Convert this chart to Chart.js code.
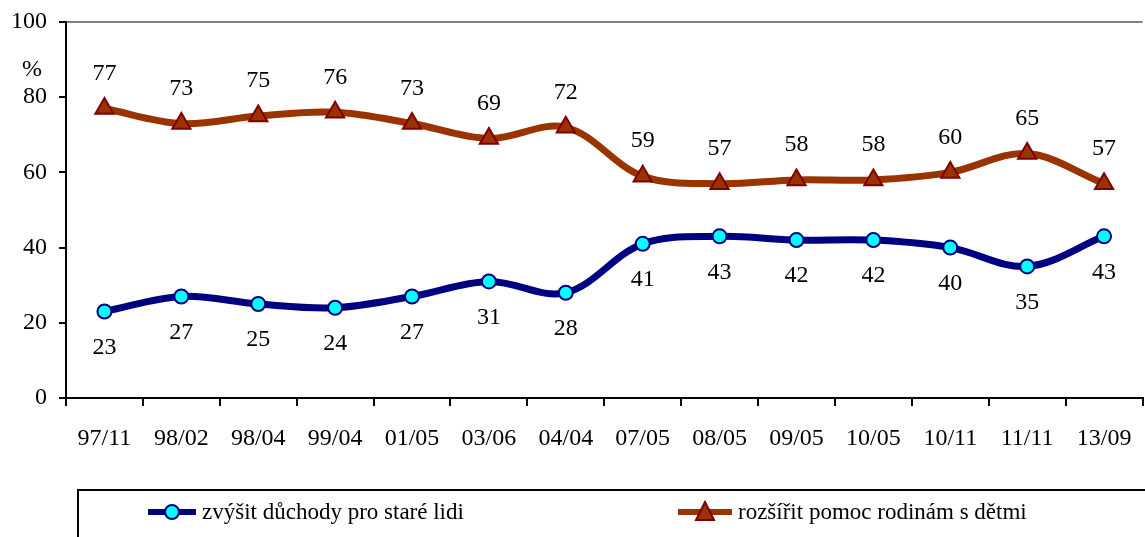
<!DOCTYPE html>
<html>
<head>
<meta charset="utf-8">
<script src="https://cdn.jsdelivr.net/npm/chart.js@4.4.1/dist/chart.umd.min.js"></script>
<style>
html,body{margin:0;padding:0;background:#fff;overflow:hidden;width:1145px;height:537px;}
#wrap{position:absolute;left:0;top:0;width:1155px;height:537px;}
</style>
</head>
<body>
<div id="wrap"><canvas id="c" width="1155" height="537"></canvas></div>
<script>
const categories = ["97/11","98/02","98/04","99/04","01/05","03/06","04/04","07/05","08/05","09/05","10/05","10/11","11/11","13/09"];
const pensions = [23,27,25,24,27,31,28,41,43,42,42,40,35,43];
const families = [77,73,75,76,73,69,72,59,57,58,58,60,65,57];
const yTicks = [0,20,40,60,80,100];
const seriesNames = ["zvýšit důchody pro staré lidi","rozšířit pomoc rodinám s dětmi"];
const FONT = "'Liberation Serif','Times New Roman',serif";

const extras = {
  id: 'extras',
  afterDatasetsDraw(chart) {
    const ctx = chart.ctx;
    ctx.save();
    ctx.font = "24px " + FONT;
    ctx.fillStyle = "#000";
    ctx.textAlign = "center";
    ctx.textBaseline = "middle";
    chart.getDatasetMeta(0).data.forEach((p, i) => {
      ctx.fillText(String(pensions[i]), p.x, p.y + 36);
    });
    chart.getDatasetMeta(1).data.forEach((p, i) => {
      ctx.fillText(String(families[i]), p.x, p.y - 35);
    });
    ctx.fillText("%", 32, 70);
    ctx.restore();
  },
  afterDraw(chart) {
    const ctx = chart.ctx;
    ctx.save();
    ctx.strokeStyle = "#000";
    ctx.lineWidth = 2;
    ctx.strokeRect(78, 490, 1200, 100);
    const y = 512;
    ctx.strokeStyle = "#000080";
    ctx.lineWidth = 6;
    ctx.beginPath(); ctx.moveTo(148, y); ctx.lineTo(196, y); ctx.stroke();
    ctx.beginPath(); ctx.arc(172, y, 7, 0, Math.PI * 2);
    ctx.fillStyle = "#00FFFF"; ctx.fill();
    ctx.lineWidth = 2; ctx.strokeStyle = "#000080"; ctx.stroke();
    ctx.strokeStyle = "#993300";
    ctx.lineWidth = 6;
    ctx.beginPath(); ctx.moveTo(678, y); ctx.lineTo(732, y); ctx.stroke();
    ctx.beginPath();
    ctx.moveTo(705, y - 10); ctx.lineTo(714, y + 8); ctx.lineTo(696, y + 8); ctx.closePath();
    ctx.fillStyle = "#993300"; ctx.fill();
    ctx.lineWidth = 2; ctx.strokeStyle = "#800000"; ctx.stroke();
    ctx.font = "23px " + FONT;
    ctx.fillStyle = "#000";
    ctx.textAlign = "left";
    ctx.textBaseline = "middle";
    ctx.fillText(seriesNames[0], 202, y + 1);
    ctx.fillText(seriesNames[1], 738, y + 1);
    ctx.restore();
  }
};

new Chart(document.getElementById('c'), {
  type: 'line',
  data: {
    labels: categories,
    datasets: [
      {
        label: seriesNames[0],
        data: pensions,
        borderColor: "#000080",
        borderWidth: 7,
        tension: 0.35,
        pointStyle: 'circle',
        pointRadius: 7,
        pointBackgroundColor: "#00FFFF",
        pointBorderColor: "#000080",
        pointBorderWidth: 2
      },
      {
        label: seriesNames[1],
        data: families,
        borderColor: "#993300",
        borderWidth: 7,
        tension: 0.35,
        pointStyle: 'triangle',
        pointRadius: 10.5,
        pointBackgroundColor: "#993300",
        pointBorderColor: "#800000",
        pointBorderWidth: 2
      }
    ]
  },
  options: {
    responsive: false,
    animation: false,
    devicePixelRatio: 1,
    layout: { padding: { top: 22, left: 0, right: 0, bottom: 0 } },
    plugins: { legend: { display: false }, tooltip: { enabled: false } },
    scales: {
      x: {
        offset: true,
        border: { color: "#000", width: 2 },
        grid: { offset: true, drawOnChartArea: false, tickLength: 8, color: "#000", lineWidth: 2 },
        ticks: { color: "#000", font: { family: FONT, size: 24 }, padding: 18, maxRotation: 0, autoSkip: false },
        afterFit(s) { s.height = 139; s.paddingLeft = 0; s.paddingRight = 0; }
      },
      y: {
        min: 0, max: 100,
        afterBuildTicks(s) { s.ticks = yTicks.map(v => ({ value: v })); },
        border: { color: "#000", width: 2 },
        grid: {
          tickLength: 7,
          lineWidth: 2,
          color: (c) => (c.tick && c.tick.value === 100) ? "#808080" : "rgba(0,0,0,0)",
          tickColor: "#000"
        },
        ticks: { color: "#000", font: { family: FONT, size: 24 }, padding: 12 },
        afterFit(s) { s.width = 66; s.paddingTop = 0; s.paddingBottom = 0; }
      }
    }
  },
  plugins: [extras]
});
</script>
</body>
</html>
